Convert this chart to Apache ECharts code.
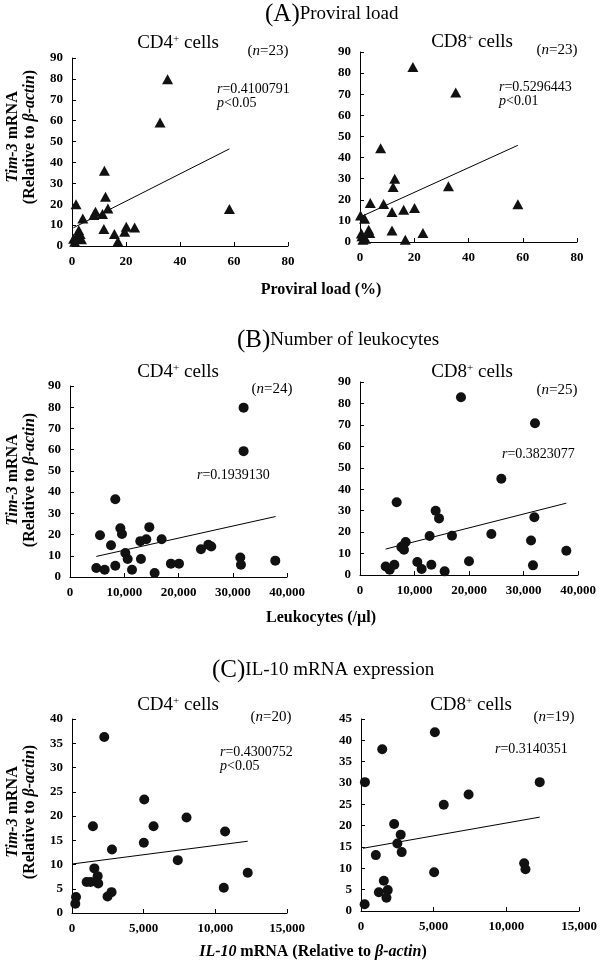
<!DOCTYPE html>
<html><head><meta charset="utf-8">
<script src="https://cdn.jsdelivr.net/npm/echarts@6/dist/echarts.min.js"></script>
<style>html,body{margin:0;padding:0;background:#fff}#c{width:600px;height:961px}</style>
</head><body><div id="c"></div>
<script>
// ---- Data ----
// (A) Proviral load (%) vs Tim-3 mRNA
const aCD4x = [35.4,32.6,58.3,12.0,12.4,13.3,1.5,8.7,8.1,11.3,4.0,11.8,20.1,23.2,19.5,15.7,17.0,2.5,3.0,3.5,0.6,1.8,1.0];
const aCD4y = [79.8,59.1,17.7,36.0,23.6,18.0,20.0,16.4,14.8,15.3,13.2,8.1,9.2,8.9,6.8,5.7,2.1,7.5,5.8,3.2,3.5,4.5,2.0];
const aCD8x = [19.5,35.3,7.6,12.8,12.2,32.6,3.8,8.7,58.2,11.8,16.1,20.1,0.2,1.7,3.2,3.6,11.8,23.2,16.7,0.7,1.1,2.0,0.5];
const aCD8y = [82.9,70.8,44.4,30.0,26.0,26.4,18.5,18.0,17.9,14.2,15.3,16.1,12.6,11.0,5.8,4.3,5.4,4.3,1.1,2.7,1.1,1.5,4.0];
// (B) Leukocytes (/µl) vs Tim-3 mRNA
const bCD4x = [32000,32000,8350,9280,9580,14620,5530,7560,14070,12960,16890,10200,10630,13080,24140,25490,26040,31390,31510,37840,18600,20090,4850,6390,8350,11430,15600];
const bCD4y = [79.8,59.3,36.6,23.0,20.3,23.5,19.7,15.0,17.8,16.9,17.8,11.3,8.5,8.5,13.1,15.2,14.4,9.2,5.8,7.7,6.3,6.3,4.2,3.4,5.3,3.4,1.9];
const bCD8x = [18530,32110,25930,6730,13880,14500,31990,24100,16880,12780,8380,7580,8070,31380,37860,20000,10520,13090,11310,15530,31740,6300,4710,5440,7900];
const bCD8y = [82.9,70.8,44.9,33.9,30.0,26.4,26.9,19.1,18.3,18.2,15.4,13.0,11.8,16.1,11.3,6.4,6.1,4.8,2.8,1.7,4.5,4.8,4.0,2.5,13.6];
// (C) IL-10 mRNA vs Tim-3 mRNA
const cCD4x = [2250,5040,5010,5690,7990,10680,7380,12260,10590,1460,2790,1560,1790,1020,1300,1830,2760,2480,280,230];
const cCD4y = [36.3,23.4,14.5,17.9,19.7,16.8,10.9,8.3,5.2,17.9,13.1,9.2,7.6,6.4,6.4,6.1,4.3,3.4,3.3,1.9];
const cCD8x = [5080,1460,270,12290,7400,5690,2280,2730,2500,2800,1020,5030,11220,11310,1570,1230,1840,1750,250];
const cCD8y = [41.9,37.9,30.2,30.2,27.3,24.9,20.4,17.9,15.8,13.8,13.1,9.1,11.2,9.8,7.1,4.4,4.9,3.1,1.6];
// Regression lines (endpoints)
const aCD4trendX = [0.5,58.3], aCD4trendY = [8.7,46.5];
const aCD8trendX = [0,58.2],   aCD8trendY = [11.8,45.8];
const bCD4trendX = [4850,37900], bCD4trendY = [9.7,28.5];
const bCD8trendX = [4710,37860], bCD8trendY = [12.1,33.5];
const cCD4trendX = [0,12260],  cCD4trendY = [10.1,14.8];
const cCD8trendX = [140,12290], cCD8trendY = [14.7,22.0];
// Axis ranges / ticks
const xRanges = [[0,80,20],[0,80,20],[0,40000,10000],[0,40000,10000],[0,15000,5000],[0,15000,5000]];
const yRanges = [[0,90,10],[0,90,10],[0,90,10],[0,90,10],[0,40,5],[0,45,5]];
const nLabels = ['23','23','24','25','20','19'];
const rLabels = ['0.4100791','0.5296443','0.1939130','0.3823077','0.4300752','0.3140351'];
const pLabels = ['0.05','0.01',null,null,'0.05',null];

// ---- Chart ----
const F = "'Liberation Serif','Times New Roman',serif";
const zip = (xs, ys) => xs.map((x, i) => [x, ys[i]]);
const grids = [
  {left:72, top:58, width:216, height:188},
  {left:360, top:52, width:217, height:190},
  {left:70, top:386, width:217, height:191},
  {left:360, top:382, width:218, height:193},
  {left:72, top:719, width:215, height:194},
  {left:361, top:719, width:220, height:192}
];
const fmt = v => Number(v).toLocaleString('en-US');
const axisCommon = {
  axisLine:{show:true, lineStyle:{color:'#000', width:1}},
  axisTick:{show:true, inside:true, length:4, lineStyle:{color:'#000'}},
  splitLine:{show:false},
  axisLabel:{fontFamily:F, fontWeight:'bold', fontSize:13, color:'#000', margin:8, formatter:fmt}
};
const xAxis = xRanges.map((r,i)=>Object.assign({type:'value', gridIndex:i, min:r[0], max:r[1], interval:r[2]}, JSON.parse(JSON.stringify(axisCommon)), {axisLabel:Object.assign({}, axisCommon.axisLabel, {margin:9})}));
const yAxis = yRanges.map((r,i)=>Object.assign({type:'value', gridIndex:i, min:r[0], max:r[1], interval:r[2]}, JSON.parse(JSON.stringify(axisCommon)), {axisLabel:Object.assign({}, axisCommon.axisLabel, {margin:9})}));

const pts = [[aCD4x,aCD4y],[aCD8x,aCD8y],[bCD4x,bCD4y],[bCD8x,bCD8y],[cCD4x,cCD4y],[cCD8x,cCD8y]];
const trends = [[aCD4trendX,aCD4trendY],[aCD8trendX,aCD8trendY],[bCD4trendX,bCD4trendY],[bCD8trendX,bCD8trendY],[cCD4trendX,cCD4trendY],[cCD8trendX,cCD8trendY]];
const series = [];
pts.forEach((p,i)=>{
  series.push({type:'scatter', xAxisIndex:i, yAxisIndex:i, data:zip(p[0],p[1]),
    symbol: i<2 ? 'triangle' : 'circle', symbolSize: i<2 ? [11,10] : 10,
    itemStyle:{color:'#111', opacity:1}, z:3});
  series.push({type:'line', xAxisIndex:i, yAxisIndex:i, data:zip(trends[i][0],trends[i][1]),
    showSymbol:false, symbol:'none', lineStyle:{color:'#000', width:1}, z:2, silent:true});
});

const rich = {
  big:{fontFamily:F, fontSize:25, color:'#000'},
  h:{fontFamily:F, fontSize:19, color:'#000'},
  s:{fontFamily:F, fontSize:11, color:'#000', verticalAlign:'top'},
  n:{fontFamily:F, fontSize:15, color:'#000'},
  ni:{fontFamily:F, fontSize:15, color:'#000', fontStyle:'italic'},
  r:{fontFamily:F, fontSize:14, color:'#000'},
  ri:{fontFamily:F, fontSize:14, color:'#000', fontStyle:'italic'},
  b:{fontFamily:F, fontSize:16, color:'#000', fontWeight:'bold'},
  bi:{fontFamily:F, fontSize:16, color:'#000', fontWeight:'bold', fontStyle:'italic'}
};
function T(x, y, text, align, rot){
  return {type:'text', x:x, y:y, rotation: rot||0, z:10,
    style:{text:text, rich:rich, align:align||'center', verticalAlign:'middle', fill:'#000', font:"15px "+F}};
}
const graphic = [
  T(265,14,'{big|(A)}{h|Proviral load}','left'),
  T(237,340,'{big|(B)}{h|Number of leukocytes}','left'),
  T(212,670,'{big|(C)}{h|IL-10 mRNA expression}','left'),
  T(321,290,'{b|Proviral load (%)}'),
  T(321,618,'{b|Leukocytes (/µl)}'),
  T(313,952,'{bi|IL-10} {b|mRNA (Relative to }{bi|β-actin}{b|)}')
];
const subPos = [[178,43,268,51,217,89],[472,42,557,50,499,87],[178,372,272,389,197,475],[472,372,557,390,502,454],[178,705,271,717,220,752],[471,705,554,717,495,749]];
subPos.forEach((s,i)=>{
  const cd = (i%2===0) ? 'CD4' : 'CD8';
  graphic.push(T(s[0],s[1],'{h|'+cd+'}{s|+}{h| cells}'));
  graphic.push(T(s[2],s[3],'{n|(}{ni|n}{n|='+nLabels[i]+')}'));
  graphic.push(T(s[4],s[5],'{ri|r}{r|='+rLabels[i]+'}','left'));
  if (pLabels[i]) graphic.push(T(s[4],s[5]+14,'{ri|p}{r|<'+pLabels[i]+'}','left'));
});
[[137],[480],[812]].forEach(c=>{
  graphic.push(T(13,c[0],'{bi|Tim-3}{b| mRNA}','center',Math.PI/2));
  graphic.push(T(30,c[0],'{b|(Relative to }{bi|β-actin}{b|)}','center',Math.PI/2));
});

const chart = echarts.init(document.getElementById('c'), null, {renderer:'canvas'});
chart.setOption({
  animation:false,
  backgroundColor:'#fff',
  grid: grids.map(g=>Object.assign({containLabel:false}, g)),
  xAxis: xAxis, yAxis: yAxis, series: series, graphic: graphic
});
</script></body></html>
